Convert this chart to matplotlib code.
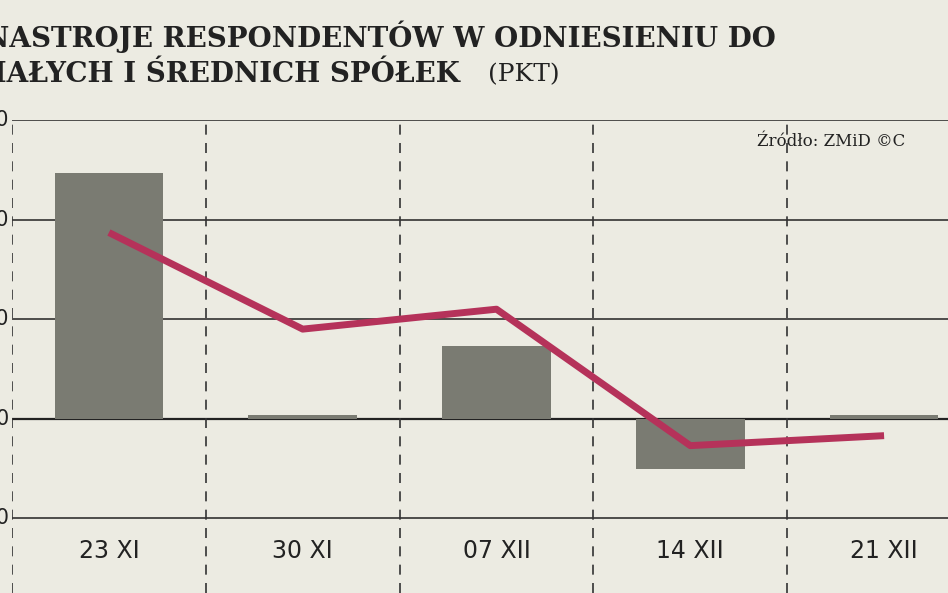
import matplotlib
matplotlib.use("Agg")
import matplotlib.pyplot as plt

categories = ["23 XI", "30 XI", "07 XII", "14 XII", "21 XII"]
bar_values = [24.7, 0.4, 7.3, -5.0, 0.4]
line_values = [18.7, 9.0, 11.0, -2.7, -1.7]
yticks = [-10, 0, 10, 20, 30]

bg = "#ECEBE2"
fig = plt.figure(figsize=(9.48, 5.93), dpi=100, facecolor=bg)
ax = fig.add_axes([12/948, 0, 1 - 12/948, 1 - 120/593])
ax.set_facecolor(bg)
x = list(range(len(categories)))
ax.set_xlim(-0.5, (948 - 108) / 194)
ax.set_ylim(-17.5, 30)
for t in yticks:
    ax.axhline(t, color="#222222", lw=1.6 if t == 0 else 1.1, zorder=1)
    ax.text(-0.515, t, str(t), ha="right", va="center", fontsize=15,
            color="#222222", clip_on=False)
for i in range(len(categories)):
    ax.axvline(i - 0.5, color="#333333", lw=1.2, ls=(0, (6, 5)), zorder=1)
ax.bar(x, bar_values, width=0.56, color="#7a7b72", zorder=2)
ax.plot(x, line_values, color="#b5325a", lw=5, zorder=3, solid_capstyle="butt")
for i, c in enumerate(categories):
    ax.text(i, -13.3, c, ha="center", va="center", fontsize=17, color="#222222")
for s in ax.spines.values():
    s.set_visible(False)
ax.set_xticks([]); ax.set_yticks([])

fig.text(757/948, 1 - 141/593, "Źródło: ZMiD ©C", ha="left", va="center",
         fontsize=12, family="DejaVu Serif", color="#222222")
fig.text(-0.017, 1 - 37/593, "NASTROJE RESPONDENTÓW W ODNIESIENIU DO",
         fontsize=20, fontweight="bold", family="DejaVu Serif", color="#222222", va="center")
fig.text(-0.025, 1 - 75/593, "MAŁYCH I ŚREDNICH SPÓŁEK", fontsize=20, fontweight="bold",
         family="DejaVu Serif", color="#222222", va="center")
fig.text(488/948, 1 - 75/593, "(PKT)", fontsize=18, family="DejaVu Serif",
         color="#222222", va="center")
fig.savefig("out.png", dpi=100, facecolor=bg)
